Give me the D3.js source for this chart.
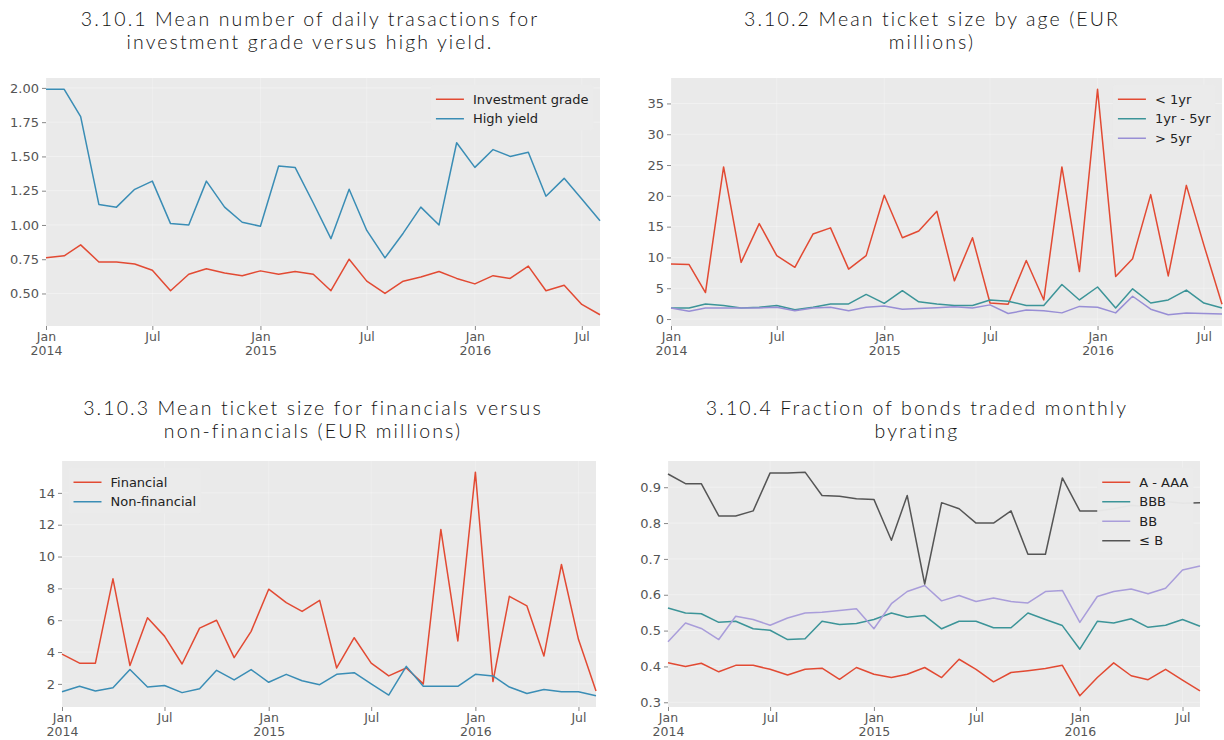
<!DOCTYPE html>
<html>
<head>
<meta charset="utf-8">
<script src="https://cdn.jsdelivr.net/npm/d3@7"></script>
<style>
  body { margin: 0; background: #ffffff; }
  svg { display: block; }
</style>
</head>
<body>
<svg id="chart" width="1224" height="740"></svg>
<script>
// ---------- DATA ----------
const months = ["2014-01","2014-02","2014-03","2014-04","2014-05","2014-06","2014-07","2014-08","2014-09","2014-10","2014-11","2014-12",
                "2015-01","2015-02","2015-03","2015-04","2015-05","2015-06","2015-07","2015-08","2015-09","2015-10","2015-11","2015-12",
                "2016-01","2016-02","2016-03","2016-04","2016-05","2016-06","2016-07","2016-08"];

const xTickDates  = ["2014-01","2014-07","2015-01","2015-07","2016-01","2016-07"];
const xTickLabels = ["Jan\n2014","Jul","Jan\n2015","Jul","Jan\n2016","Jul"];

// 3.10.1
const investmentGrade = [0.76,0.775,0.855,0.73,0.73,0.715,0.67,0.52,0.64,0.68,0.65,0.63,0.665,0.64,0.66,0.64,0.52,0.75,0.59,0.50,0.59,0.62,0.66,0.61,0.57,0.63,0.61,0.70,0.52,0.56,0.42,0.345];
const highYield       = [1.99,1.99,1.79,1.15,1.13,1.26,1.32,1.01,1.00,1.32,1.13,1.02,0.99,1.43,1.42,1.16,0.90,1.26,0.96,0.76,0.94,1.13,1.00,1.60,1.42,1.55,1.50,1.53,1.21,1.34,1.19,1.03];
const ticks1 = [0.50,0.75,1.00,1.25,1.50,1.75,2.00];

// 3.10.2
const lessThan1yr = [8.95,8.85,4.3,24.7,9.2,15.5,10.3,8.4,13.8,14.8,8.1,10.3,20.1,13.2,14.3,17.5,6.2,13.2,2.6,2.4,9.5,3.1,24.7,7.7,37.3,6.9,9.8,20.2,7.0,21.7,12.0,2.4];
const yr1to5      = [1.8,1.8,2.45,2.2,1.8,1.9,2.2,1.5,1.9,2.45,2.45,4.0,2.55,4.6,2.8,2.45,2.2,2.2,3.1,2.9,2.2,2.2,5.6,3.1,5.2,1.8,4.9,2.6,3.1,4.7,2.6,1.8];
const moreThan5yr = [1.8,1.25,1.8,1.8,1.8,1.8,1.9,1.35,1.8,1.9,1.35,1.9,2.1,1.6,1.7,1.85,2.0,1.8,2.3,0.9,1.45,1.35,1.0,2.05,1.9,1.0,3.7,1.6,0.7,1.0,0.9,0.8];
const ticks2 = [0,5,10,15,20,25,30,35];

// 3.10.3
const financial    = [3.87,3.3,3.3,8.6,3.15,6.15,5.0,3.25,5.5,6.0,3.65,5.3,7.95,7.1,6.55,7.25,3.0,4.9,3.3,2.5,3.0,2.0,11.7,4.7,15.3,2.15,7.5,6.9,3.75,9.5,4.8,1.55];
const nonFinancial = [1.5,1.85,1.55,1.75,2.9,1.8,1.9,1.45,1.7,2.85,2.25,2.9,2.1,2.6,2.2,1.95,2.6,2.7,2.0,1.3,3.1,1.85,1.85,1.85,2.6,2.5,1.8,1.4,1.65,1.5,1.5,1.25];
const ticks3 = [2,4,6,8,10,12,14];

// 3.10.4
const ratingAtoAAA = [0.41,0.40,0.409,0.385,0.403,0.403,0.392,0.376,0.392,0.395,0.364,0.397,0.378,0.369,0.378,0.397,0.369,0.42,0.392,0.357,0.383,0.388,0.394,0.403,0.318,0.369,0.41,0.374,0.363,0.392,0.362,0.332];
const ratingBBB    = [0.563,0.549,0.547,0.523,0.526,0.505,0.501,0.475,0.477,0.526,0.517,0.52,0.531,0.549,0.537,0.542,0.505,0.526,0.526,0.508,0.508,0.549,0.531,0.514,0.448,0.526,0.521,0.533,0.509,0.515,0.531,0.512];
const ratingBB     = [0.469,0.521,0.506,0.475,0.54,0.531,0.515,0.535,0.549,0.551,0.556,0.561,0.505,0.575,0.609,0.626,0.583,0.598,0.581,0.591,0.581,0.577,0.609,0.612,0.523,0.595,0.609,0.616,0.603,0.618,0.669,0.68];
const ratingLeB    = [0.937,0.91,0.91,0.82,0.82,0.834,0.94,0.94,0.942,0.877,0.875,0.868,0.866,0.752,0.877,0.63,0.857,0.84,0.80,0.80,0.834,0.713,0.713,0.926,0.834,0.834,0.84,0.85,0.845,0.86,0.855,0.857];
const ticks4 = [0.3,0.4,0.5,0.6,0.7,0.8,0.9];

// ---------- STYLE / LAYOUT ----------
const C_RED = "#E24A33", C_BLUE = "#3A8DB5", C_TEAL = "#3C9498", C_PURPLE = "#988ED5", C_LAV = "#A99DDA", C_GRAY = "#555555";
const PLOT_BG = "#EAEAEA";

const panels = [
  { title: ["3.10.1 Mean number of daily trasactions for", "investment grade versus high yield."],
    titleX: 310, titleY: [26, 49],
    box: {x0: 46, x1: 600, y0: 78, y1: 326},
    ticks: ticks1, fmt: d3.format(".2f"), legend: "right",
    series: [ {name: "Investment grade", values: investmentGrade, color: C_RED},
              {name: "High yield", values: highYield, color: C_BLUE} ] },
  { title: ["3.10.2 Mean ticket size by age (EUR", "millions)"],
    titleX: 932, titleY: [26, 49],
    box: {x0: 671, x1: 1222, y0: 78, y1: 326},
    ticks: ticks2, fmt: d3.format("d"), legend: "right",
    series: [ {name: "< 1yr", values: lessThan1yr, color: C_RED},
              {name: "1yr - 5yr", values: yr1to5, color: C_TEAL},
              {name: "> 5yr", values: moreThan5yr, color: C_PURPLE} ] },
  { title: ["3.10.3 Mean ticket size for financials versus", "non-financials (EUR millions)"],
    titleX: 313, titleY: [415, 438],
    box: {x0: 62, x1: 596, y0: 461, y1: 707},
    ticks: ticks3, fmt: d3.format("d"), legend: "left",
    series: [ {name: "Financial", values: financial, color: C_RED},
              {name: "Non-financial", values: nonFinancial, color: C_BLUE} ] },
  { title: ["3.10.4 Fraction of bonds traded monthly", "byrating"],
    titleX: 917, titleY: [415, 438],
    box: {x0: 668, x1: 1200, y0: 461, y1: 707},
    ticks: ticks4, fmt: d3.format(".1f"), legend: "right",
    series: [ {name: "A - AAA", values: ratingAtoAAA, color: C_RED},
              {name: "BBB", values: ratingBBB, color: C_TEAL},
              {name: "BB", values: ratingBB, color: C_LAV},
              {name: "\u2264 B", values: ratingLeB, color: C_GRAY} ] }
];

const parse = d3.timeParse("%Y-%m");
const dates = months.map(parse);
const svg = d3.select("#chart");
const FONT = "'DejaVu Sans', sans-serif";

panels.forEach(p => {
  const b = p.box;
  const x = d3.scaleTime().domain(d3.extent(dates)).range([b.x0, b.x1]);
  const all = p.series.flatMap(s => s.values);
  const [mn, mx] = d3.extent(all);
  const pad = (mx - mn) * 0.05;
  const y = d3.scaleLinear().domain([mn - pad, mx + pad]).range([b.y1, b.y0]);

  const g = svg.append("g");

  // title
  const t = g.append("text")
    .attr("x", p.titleX).attr("text-anchor", "middle")
    .style("font-family", "Lato, 'Open Sans', sans-serif")
    .style("font-weight", 300)
    .style("font-size", "19.5px")
    .style("letter-spacing", "2.1px")
    .style("fill", "#111");
  p.title.forEach((line, i) => {
    t.append("tspan").attr("x", p.titleX).attr("y", p.titleY[i]).text(line);
  });

  // background
  g.append("rect").attr("x", b.x0).attr("y", b.y0)
    .attr("width", b.x1 - b.x0).attr("height", b.y1 - b.y0)
    .attr("fill", PLOT_BG);

  // grid
  const tickDates = xTickDates.map(parse);
  g.append("g").selectAll("line").data(p.ticks).join("line")
    .attr("x1", b.x0).attr("x2", b.x1)
    .attr("y1", d => y(d)).attr("y2", d => y(d))
    .attr("stroke", "#ffffff").attr("stroke-opacity", 0.35).attr("stroke-width", 1);
  g.append("g").selectAll("line").data(tickDates).join("line")
    .attr("y1", b.y0).attr("y2", b.y1)
    .attr("x1", d => x(d)).attr("x2", d => x(d))
    .attr("stroke", "#ffffff").attr("stroke-opacity", 0.25).attr("stroke-width", 1);

  // y axis
  const yAxis = d3.axisLeft(y).tickValues(p.ticks).tickFormat(p.fmt).tickSize(4).tickPadding(3);
  const ya = g.append("g").attr("transform", `translate(${b.x0},0)`).call(yAxis);
  ya.select(".domain").remove();
  ya.selectAll(".tick line").attr("stroke", "#888");
  ya.selectAll(".tick text").style("font-family", FONT).style("font-size", "13px").attr("fill", "#555");

  // x axis
  const xAxis = d3.axisBottom(x).tickValues(tickDates)
    .tickFormat((d, i) => xTickLabels[i]).tickSize(4).tickPadding(3);
  const xa = g.append("g").attr("transform", `translate(0,${b.y1})`).call(xAxis);
  xa.select(".domain").remove();
  xa.selectAll(".tick line").attr("stroke", "#888");
  xa.selectAll(".tick text").each(function(d, i) {
    const el = d3.select(this);
    const lines = xTickLabels[i].split("\n");
    el.text(null).attr("y", 0).attr("dy", null)
      .style("font-family", FONT).style("font-size", "12.5px").attr("fill", "#555");
    lines.forEach((ln, k) => {
      el.append("tspan").attr("x", 0).attr("y", 15 + k * 13.5).text(ln);
    });
  });

  // lines
  const line = d3.line().x((d, i) => x(dates[i])).y(d => y(d));
  p.series.forEach(s => {
    g.append("path").datum(s.values)
      .attr("d", line)
      .attr("fill", "none")
      .attr("stroke", s.color)
      .attr("stroke-width", 1.5)
      .attr("stroke-linejoin", "round");
  });

  // legend
  const fs = 13, rowH = 19.5, handleLen = 28, handleGap = 9, inPad = 5, axPad = 6.5;
  const lg = g.append("g");
  const bgRect = lg.append("rect");
  const texts = p.series.map(s => lg.append("text").text(s.name)
      .style("font-family", FONT).style("font-size", fs + "px").attr("fill", "#222"));
  const maxW = d3.max(texts, tx => tx.node().getComputedTextLength());
  const boxW = inPad + handleLen + handleGap + maxW + inPad;
  const boxH = inPad + p.series.length * rowH + 2;
  const bx = p.legend === "right" ? b.x1 - axPad - boxW : b.x0 + axPad;
  const by = b.y0 + axPad;
  bgRect.attr("x", bx).attr("y", by).attr("width", boxW).attr("height", boxH)
    .attr("rx", 3).attr("fill", PLOT_BG).attr("fill-opacity", 0.97);
  p.series.forEach((s, i) => {
    const cy = by + inPad + rowH * i + rowH / 2;
    lg.append("line").attr("x1", bx + inPad).attr("x2", bx + inPad + handleLen)
      .attr("y1", cy).attr("y2", cy).attr("stroke", s.color).attr("stroke-width", 1.5);
    texts[i].attr("x", bx + inPad + handleLen + handleGap).attr("y", cy + 4.5);
  });
});
</script>
</body>
</html>
